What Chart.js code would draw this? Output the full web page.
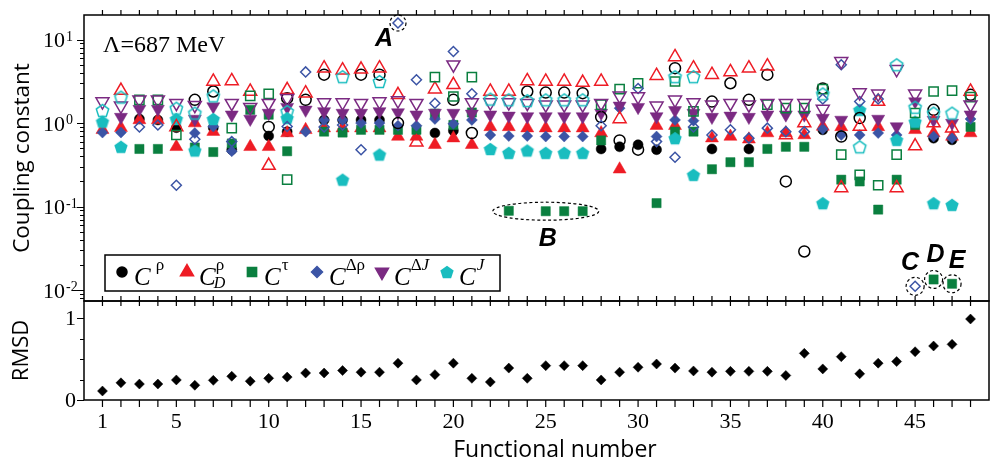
<!DOCTYPE html>
<html>
<head>
<meta charset="utf-8">
<script src="https://cdn.jsdelivr.net/npm/chart.js@4.4.0/dist/chart.umd.min.js"></script>
<style>
  html, body { margin: 0; padding: 0; background: #fff; }
  #wrap { position: relative; width: 993px; height: 462px; overflow: hidden; }
  #top { position: absolute; left: 0; top: 0; }
  #bot { position: absolute; left: 0; top: 291px; }
</style>
</head>
<body>
<div id="wrap">
  <canvas id="top" width="998" height="310"></canvas>
  <canvas id="bot" width="998" height="171"></canvas>
</div>
<script>
// functional numbers (x categories)
const functionals = [1,2,3,4,5,6,7,8,9,10,11,12,13,14,15,16,17,18,19,20,21,22,23,24,
  25,26,27,28,29,30,31,32,33,34,35,36,37,38,39,40,41,42,43,44,45,46,47,48];

// coupling constants, filled markers (null = not visible)
const cRho = [null,null,1.12,1.09,0.88,null,0.88,0.48,null,0.70,
  0.79,null,1.09,1.09,1.09,1.09,null,null,0.76,0.81,
  null,null,null,null,null,null,null,0.49,0.52,0.55,
  0.48,null,null,0.49,null,0.49,null,null,null,0.83,
  null,null,null,null,null,0.66,0.63,null];
const cRhoD = [0.83,0.88,1.09,1.09,0.52,1.00,0.79,null,0.52,0.52,
  0.76,0.83,0.87,0.87,0.87,0.87,0.69,0.69,0.55,0.66,
  0.55,0.90,0.90,0.87,0.87,0.87,0.87,0.76,0.28,null,
  0.93,0.93,null,0.66,0.69,0.64,0.76,0.76,0.72,0.91,
  0.90,null,0.90,null,0.83,0.76,0.69,0.76];
const cTau = [null,null,0.49,0.49,null,0.51,0.45,0.57,1.44,1.26,
  0.46,null,0.79,0.77,0.83,0.83,0.83,0.83,1.30,0.95,
  1.34,null,0.089,null,0.088,0.088,0.088,0.62,null,null,
  0.110,0.79,0.79,0.28,0.34,0.34,0.49,0.52,0.52,null,
  0.21,0.20,0.092,0.21,0.95,0.0134,0.0119,0.90];
const cDRho = [0.77,0.77,null,null,null,0.76,0.91,0.46,null,null,
  null,0.79,1.09,1.09,1.00,1.00,0.93,0.93,1.12,0.98,
  1.09,0.72,0.70,0.70,0.69,0.69,0.69,null,1.51,null,
  0.69,1.09,1.07,null,null,null,null,null,null,0.85,
  0.72,0.72,0.76,0.72,null,0.69,0.66,1.12];
const cDJ = [null,1.18,1.47,1.47,null,1.12,1.58,1.26,1.12,1.32,
  1.55,1.44,1.38,1.32,1.32,1.38,1.34,1.26,1.32,1.32,
  1.29,1.26,1.22,1.20,1.20,1.20,1.20,1.32,1.61,1.55,
  1.20,1.42,1.32,1.18,1.22,1.18,1.26,1.26,1.26,1.15,
  1.09,null,1.12,0.91,1.81,1.09,1.00,1.26];
const cJ = [1.04,0.52,null,null,1.12,0.47,1.12,null,null,null,
  1.15,null,null,0.21,null,0.42,null,null,null,null,
  null,0.49,0.44,0.47,0.44,0.44,0.44,null,null,null,
  null,0.66,0.24,null,null,null,null,null,null,0.11,
  null,1.44,null,0.63,1.04,0.11,0.105,null];

// coupling constants, open markers
const cRhoOpen = [null,null,null,null,null,1.90,2.39,null,null,0.90,
  1.99,1.90,3.8,null,3.8,3.8,1.00,null,null,1.90,
  0.76,null,null,2.39,2.32,2.32,2.28,1.18,0.62,0.48,
  null,4.55,null,1.81,3.0,1.90,3.8,0.20,0.029,2.6,
  0.69,1.15,null,null,null,1.44,null,2.18];
const cRhoDOpen = [null,2.45,null,null,0.90,null,3.15,3.2,2.39,0.31,
  2.5,2.28,4.55,4.3,4.4,4.55,2.18,0.59,2.55,2.87,
  null,2.39,2.39,3.2,3.15,3.15,3.06,3.15,1.12,null,
  3.7,6.2,4.55,3.8,4.1,4.55,4.8,0.72,1.00,null,
  0.167,0.91,1.81,0.167,0.53,1.0,0.87,2.39];
const cTauOpen = [null,null,1.90,1.90,0.72,null,null,0.87,2.12,2.24,
  0.21,null,null,null,null,null,null,null,3.55,2.08,
  3.55,null,null,null,null,null,null,1.66,2.55,3.0,
  null,3.15,1.38,null,null,null,1.66,1.51,1.51,2.55,
  0.42,0.24,0.18,0.42,1.32,2.39,2.45,2.05];
const cDRhoOpen = [null,null,0.90,0.95,0.18,0.64,null,0.60,null,null,
  0.91,4.1,0.90,0.95,0.48,null,15.8,3.3,1.73,7.2,
  2.24,null,null,null,null,null,null,0.93,null,2.6,
  0.60,0.39,0.90,0.72,0.83,0.66,0.87,0.79,0.79,1.94,
  5.0,1.81,1.94,null,0.0111,null,null,null];
const cDJOpen = [1.81,1.61,1.90,1.90,1.73,1.64,null,1.73,1.55,1.73,
  1.99,null,1.76,1.76,1.73,1.81,1.86,1.73,null,5.0,
  1.76,1.76,1.76,1.73,1.66,1.66,1.66,1.73,2.12,2.08,
  1.61,1.90,1.76,1.66,1.73,1.66,1.73,1.73,1.73,1.47,
  5.5,2.32,2.24,4.4,2.24,null,null,1.66];
const cJOpen = [1.42,2.05,null,null,1.51,1.32,2.12,null,null,null,
  1.38,null,null,3.6,null,3.15,null,null,null,null,
  null,1.94,1.90,1.86,1.90,1.90,1.90,null,null,null,
  null,3.6,3.6,null,null,null,null,null,null,2.24,
  null,0.52,null,5.0,1.55,1.32,1.32,null];

// RMSD per functional
const rmsd = [0.11,0.21,0.195,0.195,0.245,0.18,0.24,0.29,0.23,0.265,
  0.28,0.33,0.33,0.36,0.34,0.34,0.45,0.245,0.31,0.45,
  0.265,0.22,0.39,0.265,0.42,0.42,0.42,0.245,0.34,0.40,
  0.44,0.39,0.355,0.34,0.35,0.35,0.35,0.30,0.57,0.38,
  0.53,0.32,0.45,0.47,0.59,0.66,0.68,0.99];

// tick values
const decades = [1, 0, -1, -2];
const rmsdTicks = [0, 0.25, 0.5, 0.75, 1];
const rmsdLabels = [0, 1];

function pentagon(r, filled, color) {
  const s = Math.ceil(2 * r + 4);
  const c = document.createElement('canvas');
  c.width = s; c.height = s;
  const g = c.getContext('2d');
  g.beginPath();
  for (let i = 0; i < 5; i++) {
    const ang = -Math.PI / 2 + i * 2 * Math.PI / 5;
    const px = s / 2 + r * Math.cos(ang);
    const py = s / 2 + r * Math.sin(ang) + r * 0.095;
    if (i === 0) g.moveTo(px, py); else g.lineTo(px, py);
  }
  g.closePath();
  if (filled) { g.fillStyle = color; g.fill(); }
  else { g.strokeStyle = color; g.lineWidth = 1.5; g.stroke(); }
  return c;
}

const styles = {
  rho:  { color: '#000000', style: 'circle', r: 5, ro: 5.5, rot: 0 },
  rhoD: { color: '#ee1c25', style: 'triangle', r: 7.5, ro: 7.5, rot: 0 },
  tau:  { color: '#0a7f3f', style: 'rect', r: 6.5, ro: 6.5, rot: 0 },
  dRho: { color: '#3b54a5', style: 'rectRot', r: 5.5, ro: 5, rot: 0 },
  dJ:   { color: '#7b2a82', style: 'triangle', r: 7.5, ro: 7.5, rot: 180 },
  J:    { color: '#19bdbf', style: 'pentagon', r: 7, ro: 6.5, rot: 0 }
};

function pts(arr) {
  return functionals.map((n, i) => arr[i] == null ? null : { x: n, y: arr[i] }).filter(Boolean);
}

function makeSet(key, arr, open) {
  const s = styles[key];
  const ps = s.style === 'pentagon' ? pentagon(open ? s.ro : s.r, !open, s.color) : s.style;
  return {
    data: pts(arr),
    pointStyle: ps,
    pointRadius: open ? s.ro : s.r,
    pointHoverRadius: open ? s.ro : s.r,
    pointRotation: s.rot,
    pointBackgroundColor: open ? 'rgba(0,0,0,0)' : s.color,
    pointBorderColor: s.color,
    pointBorderWidth: open ? 1.5 : 0.5
  };
}

// index 0 is drawn on top
const topSets = [
  makeSet('J', cJOpen, true), makeSet('dJ', cDJOpen, true), makeSet('dRho', cDRhoOpen, true),
  makeSet('tau', cTauOpen, true), makeSet('rhoD', cRhoDOpen, true), makeSet('rho', cRhoOpen, true),
  makeSet('J', cJ, false), makeSet('dJ', cDJ, false), makeSet('dRho', cDRho, false),
  makeSet('tau', cTau, false), makeSet('rhoD', cRhoD, false), makeSet('rho', cRho, false)
];

const legendEntries = [
  { key: 'rho', sup: [['ρ', false]], gap: 5 },
  { key: 'rhoD', sup: [['ρ', false]], sub: 'D', gap: 0 },
  { key: 'tau', sup: [['τ', false]], gap: 1 },
  { key: 'dRho', sup: [['Δρ', false]], gap: 0 },
  { key: 'dJ', sup: [['Δ', false], ['J', true]], gap: 0 },
  { key: 'J', sup: [['J', true]], gap: 1 }
];

const serif = '"Liberation Serif", "Times New Roman", serif';
const sans = '"Open Sans", "Liberation Sans", sans-serif';

const topDecor = {
  id: 'topDecor',
  afterDraw(chart) {
    const { ctx, chartArea: a, scales: { x, y } } = chart;
    ctx.save();
    ctx.strokeStyle = '#000';
    ctx.fillStyle = '#000';

    // frame
    ctx.lineWidth = 1.5;
    ctx.strokeRect(a.left, a.top, a.right - a.left, a.bottom - a.top);

    // ticks
    ctx.lineWidth = 1.2;
    ctx.beginPath();
    functionals.forEach(n => {
      const px = x.getPixelForValue(n);
      ctx.moveTo(px, a.top); ctx.lineTo(px, a.top - 5);
      ctx.moveTo(px, a.bottom); ctx.lineTo(px, a.bottom - 5);
    });
    for (let k = -3; k <= 1; k++) {
      for (let m = 1; m <= 9; m++) {
        const v = m * Math.pow(10, k);
        if (v < y.min || v > y.max) continue;
        const py = Math.round(y.getPixelForValue(v)) + 0.5;
        ctx.moveTo(a.left, py); ctx.lineTo(a.left - (m === 1 ? 7 : 4), py);
      }
    }
    ctx.stroke();

    // y tick labels 10^k
    ctx.textBaseline = 'alphabetic';
    ctx.textAlign = 'left';
    decades.forEach(k => {
      const py = y.getPixelForValue(Math.pow(10, k));
      ctx.font = '22px ' + serif;
      ctx.fillText('10', a.left - 41, py + 7.5);
      ctx.font = '14px ' + serif;
      ctx.fillText(String(k), a.left - 18, py + 1);
    });

    // Lambda label
    ctx.font = '24px ' + serif;
    ctx.fillText('Λ=687 MeV', a.left + 19, a.top + 37);

    // dashed marks around special points
    ctx.setLineDash([3, 2.5]);
    ctx.lineWidth = 1.2;
    const circ = (n, v, r) => {
      ctx.beginPath();
      ctx.arc(x.getPixelForValue(n), y.getPixelForValue(v), r, 0, 2 * Math.PI);
      ctx.stroke();
    };
    circ(17, cDRhoOpen[16], 8);
    circ(45, cDRhoOpen[44], 9);
    circ(46, cTau[45], 9);
    circ(47, cTau[46], 9);
    const bx = (x.getPixelForValue(23) + x.getPixelForValue(27)) / 2;
    const by = y.getPixelForValue(cTau[24]);
    ctx.beginPath();
    ctx.ellipse(bx, by, 53, 9, 0, 0, 2 * Math.PI);
    ctx.stroke();
    ctx.setLineDash([]);

    // letters
    ctx.font = 'italic bold 25px "Liberation Sans", Arial, sans-serif';
    ctx.textAlign = 'center';
    ctx.textBaseline = 'middle';
    const letter = (t, n, v, dx, dy) =>
      ctx.fillText(t, x.getPixelForValue(n) + dx, y.getPixelForValue(v) + dy);
    letter('A', 17, cDRhoOpen[16], -14, 16);
    ctx.fillText('B', bx + 2, by + 28);
    letter('C', 45, cDRhoOpen[44], -5, -23);
    letter('D', 46, cTau[45], 2, -24);
    letter('E', 47, cTau[46], 5, -23);

    // legend box
    const lx = a.left + 21, ly = a.bottom - 46, lw = 395, lh = 36;
    ctx.fillStyle = '#fff';
    ctx.fillRect(lx, ly, lw, lh);
    ctx.strokeStyle = '#000';
    ctx.lineWidth = 1.5;
    ctx.strokeRect(lx, ly, lw, lh);
    const my = ly + 17;
    legendEntries.forEach((e, i) => {
      const s = styles[e.key];
      const cx = lx + 17 + i * 65;
      const ps = s.style === 'pentagon' ? pentagon(s.r, true, s.color) : s.style;
      ctx.fillStyle = s.color;
      ctx.strokeStyle = s.color;
      Chart.helpers.drawPoint(ctx, { pointStyle: ps, radius: s.r, rotation: s.rot, borderWidth: 0.5 }, cx, my);
      ctx.fillStyle = '#000';
      ctx.textAlign = 'left';
      ctx.textBaseline = 'alphabetic';
      let tx = cx + 12;
      ctx.font = 'italic 25px ' + serif;
      ctx.fillText('C', tx, ly + 30);
      tx += ctx.measureText('C').width + e.gap;
      let sx = tx;
      e.sup.forEach(([t, it]) => {
        ctx.font = (it ? 'italic ' : '') + '17px ' + serif;
        ctx.fillText(t, sx, ly + 15);
        sx += ctx.measureText(t).width;
      });
      if (e.sub) {
        ctx.font = 'italic 16px ' + serif;
        ctx.fillText(e.sub, tx - 2, ly + 33);
      }
    });
    ctx.restore();
  }
};

const botDecor = {
  id: 'botDecor',
  afterDraw(chart) {
    const { ctx, chartArea: a, scales: { x, y } } = chart;
    ctx.save();
    ctx.strokeStyle = '#000';
    ctx.fillStyle = '#000';
    ctx.lineWidth = 1.5;
    ctx.strokeRect(a.left, a.top, a.right - a.left, a.bottom - a.top);
    ctx.lineWidth = 1.2;
    ctx.beginPath();
    functionals.forEach(n => {
      const px = x.getPixelForValue(n);
      ctx.moveTo(px, a.top); ctx.lineTo(px, a.top + 5);
      ctx.moveTo(px, a.bottom); ctx.lineTo(px, a.bottom + 7);
    });
    rmsdTicks.forEach(v => {
      const py = Math.round(y.getPixelForValue(v)) + 0.5;
      ctx.moveTo(a.left, py); ctx.lineTo(a.left - (rmsdLabels.includes(v) ? 7 : 4), py);
    });
    ctx.stroke();
    // y labels
    ctx.font = '22px ' + serif;
    ctx.textAlign = 'right';
    ctx.textBaseline = 'middle';
    rmsdLabels.forEach(v => ctx.fillText(String(v), a.left - 8, y.getPixelForValue(v) + 1));
    // x title
    ctx.font = '23px ' + sans;
    ctx.textAlign = 'center';
    ctx.textBaseline = 'alphabetic';
    ctx.fillText('Functional number', x.getPixelForValue(25.5), a.bottom + 57);
    ctx.restore();
  }
};

new Chart(document.getElementById('top'), {
  type: 'scatter',
  data: { datasets: topSets },
  options: {
    responsive: false,
    animation: false,
    events: [],
    layout: { padding: { top: 15, right: 1, bottom: 9, left: 0 } },
    plugins: { legend: { display: false }, tooltip: { enabled: false } },
    scales: {
      x: { type: 'linear', min: 0, max: 49, display: false },
      y: {
        type: 'logarithmic', min: 0.0074, max: 19.7,
        afterFit: s => { s.width = 84; },
        grid: { display: false, drawTicks: false },
        border: { display: false },
        ticks: { display: false },
        title: { display: true, text: 'Coupling constant', color: '#000',
                 font: { family: sans, size: 22.5 }, padding: { top: 9, bottom: 0 } }
      }
    }
  },
  plugins: [topDecor]
});

new Chart(document.getElementById('bot'), {
  type: 'scatter',
  data: {
    datasets: [{
      data: pts(rmsd),
      pointStyle: 'rectRot',
      pointRadius: 5,
      pointHoverRadius: 5,
      pointBackgroundColor: '#000',
      pointBorderColor: '#000',
      pointBorderWidth: 0.5
    }]
  },
  options: {
    responsive: false,
    animation: false,
    events: [],
    layout: { padding: { top: 10, right: 1, bottom: 0, left: 0 } },
    plugins: { legend: { display: false }, tooltip: { enabled: false } },
    scales: {
      x: {
        type: 'linear', min: 0, max: 49,
        afterFit: s => { s.height = 62; },
        grid: { display: false, drawTicks: false },
        border: { display: false },
        ticks: {
          stepSize: 1, autoSkip: false, maxRotation: 0, maxTicksLimit: 100, padding: 9,
          color: '#000', font: { family: serif, size: 22 },
          callback: v => (v === 1 || (v > 0 && v % 5 === 0)) ? String(v) : ''
        }
      },
      y: {
        type: 'linear', min: 0, max: 1.21,
        afterFit: s => { s.width = 84; },
        grid: { display: false, drawTicks: false },
        border: { display: false },
        ticks: { display: false },
        title: { display: true, text: 'RMSD', color: '#000',
                 font: { family: sans, size: 22 }, padding: { top: 9, bottom: 0 } }
      }
    }
  },
  plugins: [botDecor]
});
</script>
</body>
</html>
